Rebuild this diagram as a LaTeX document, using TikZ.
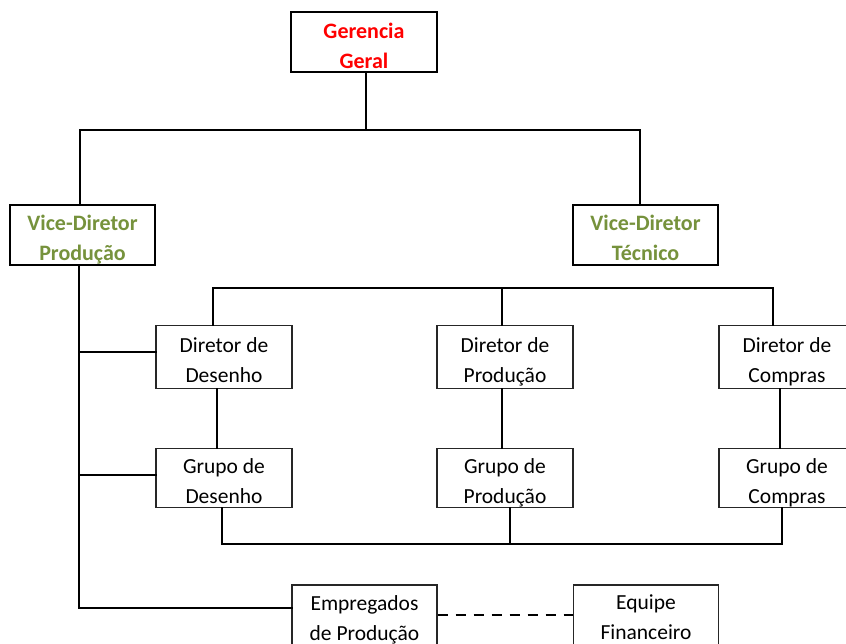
\documentclass[tikz,border=0pt]{standalone}
\usepackage{fontspec}
\setmainfont{Carlito}
\definecolor{olivetxt}{HTML}{76923C}
\begin{document}
\begin{tikzpicture}[x=1pt,y=-1pt,
  topbox/.style={draw=black,line width=2pt,rectangle,minimum width=146pt,minimum height=60pt,inner sep=0pt},
  lowbox/.style={draw=black!85,line width=1.1pt,rectangle,minimum width=136pt,minimum height=62pt,inner sep=0pt},
  toptxt/.style={inner sep=0pt,align=center,font=\fontsize{22}{30}\selectfont\bfseries},
  lowtxt/.style={inner sep=0pt,align=center,font=\fontsize{21.5}{30}\selectfont},
  conn/.style={draw=black,line width=2.6pt,line cap=rect}]
\clip (0,0) rectangle (846,644);
\fill[white] (0,0) rectangle (846,644);
% top level boxes
\node[topbox] (ger) at (364,42) {};
\node[topbox,minimum width=145pt] (vp) at (82.5,235) {};
\node[topbox,minimum width=145pt] (vt) at (645.5,235) {};
% directors and groups
\node[lowbox,minimum height=63pt] (dd) at (224,357) {};
\node[lowbox,minimum height=63pt] (dp) at (505,357) {};
\node[lowbox,minimum height=63pt] (dc) at (787,357) {};
\node[lowbox,minimum height=59pt] (gd) at (224,478) {};
\node[lowbox,minimum height=59pt] (gp) at (505,478) {};
\node[lowbox,minimum height=59pt] (gc) at (787,478) {};
% bottom
\node[lowbox,minimum width=145pt,minimum height=60pt] (emp) at (364.5,615) {};
\node[lowbox,minimum width=145pt,minimum height=60pt] (eq) at (646,615) {};
% texts
\node[toptxt,text=red] (gerT) at ([yshift=-3.5pt]ger.center) {Gerencia\\Geral};
\node[toptxt,text=olivetxt] (vpT) at ([yshift=-4.5pt]vp.center) {Vice-Diretor\\Produção};
\node[toptxt,text=olivetxt] (vtT) at ([yshift=-2.5pt]vt.center) {Vice-Diretor\\Técnico};
\node[lowtxt] (ddT) at ([yshift=-3pt]dd.center) {Diretor de\\Desenho};
\node[lowtxt] (dpT) at ([yshift=-5pt]dp.center) {Diretor de\\Produção};
\node[lowtxt] (dcT) at ([yshift=-5pt]dc.center) {Diretor de\\Compras};
\node[lowtxt] (gdT) at ([yshift=-3pt]gd.center) {Grupo de\\Desenho};
\node[lowtxt] (gpT) at ([yshift=-5pt]gp.center) {Grupo de\\Produção};
\node[lowtxt] (gcT) at ([yshift=-5pt]gc.center) {Grupo de\\Compras};
\node[lowtxt] (empT) at ([yshift=-4.5pt]emp.center) {Empregados\\de Produção};
\node[lowtxt] (eqT) at ([yshift=-2.5pt]eq.center) {Equipe\\Financeiro};
% junction coordinates
\coordinate (t) at (366,130);
\coordinate (u) at (0,288);
\coordinate (b) at (0,544);
\coordinate (sp) at (79,0);
\coordinate (e1) at ([yshift=7pt]emp.west);
\coordinate (d1) at ([yshift=5pt]dd.west);
\coordinate (g1) at ([yshift=3pt]gd.west);
% top connectors
\draw[conn] (ger.south -| t) -- (t);
\draw[conn] ([xshift=-2.5pt]vp.north) -- ([xshift=-2.5pt]vp.north |- t) -- ([xshift=-5.5pt]vt.north |- t) -- ([xshift=-5.5pt]vt.north);
% left spine
\draw[conn] (vp.south -| sp) -- (sp |- e1) -- (e1);
\draw[conn] (sp |- d1) -- (d1);
\draw[conn] (sp |- g1) -- (g1);
% upper bus
\draw[conn] ([xshift=-11pt]dd.north) -- ([xshift=-11pt]dd.north |- u) -- ([xshift=-14pt]dc.north |- u) -- ([xshift=-14pt]dc.north);
\draw[conn] ([xshift=-3pt]dp.north) -- ([xshift=-3pt]dp.north |- u);
% director to group
\draw[conn] ([xshift=-7pt]dd.south) -- ([xshift=-7pt]gd.north);
\draw[conn] ([xshift=-3pt]dp.south) -- ([xshift=-3pt]gp.north);
\draw[conn] ([xshift=-7pt]dc.south) -- ([xshift=-7pt]gc.north);
% lower bus
\draw[conn] ([xshift=-2pt]gd.south) -- ([xshift=-2pt]gd.south |- b) -- ([xshift=-5pt]gc.south |- b) -- ([xshift=-5pt]gc.south);
\draw[conn] ([xshift=5pt]gp.south) -- ([xshift=5pt]gp.south |- b);
% dashed link
\draw[conn,line cap=butt,dash pattern=on 10pt off 8pt] (emp.east) -- (eq.west);
\end{tikzpicture}
\end{document}
